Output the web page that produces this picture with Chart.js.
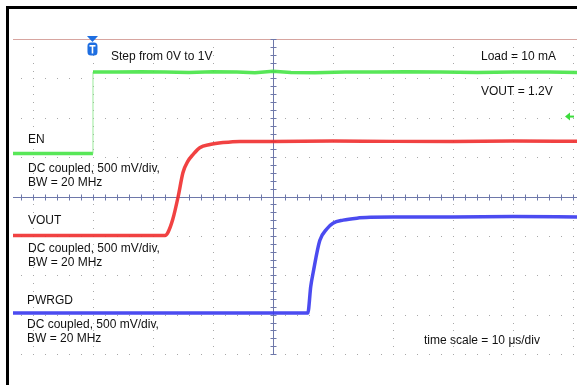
<!DOCTYPE html>
<html>
<head>
<meta charset="utf-8">
<script src="https://cdn.jsdelivr.net/npm/chart.js@4"></script>
<style>
  body { margin: 0; background: #fff; }
  canvas { display: block; }
</style>
</head>
<body>
<canvas id="scope" width="577" height="385"></canvas>
<script>
const ctx = document.getElementById("scope");

// time in us (trigger = 0), level in divisions (screen centre = 0)
const enTime = [-13.4, 0, 0, 4, 8, 12, 16, 20, 24, 27, 30, 33, 37, 42, 47, 52, 58, 64, 70, 76, 81];
const enLevel = [1.09, 1.09, 3.16, 3.16, 3.17, 3.16, 3.15, 3.17, 3.16, 3.14, 3.18, 3.15, 3.14, 3.16, 3.16, 3.17, 3.16, 3.15, 3.16, 3.16, 3.15];

const voutTime = [-13.4, 5, 12.0, 12.5, 13.3, 14.2, 15.0, 15.8, 16.7, 17.8, 19.5, 21.7, 24.5, 30, 40, 50, 60, 70, 81];
const voutLevel = [-0.99, -0.99, -0.99, -0.91, -0.58, 0.0, 0.61, 0.89, 1.07, 1.24, 1.32, 1.37, 1.40, 1.40, 1.41, 1.40, 1.40, 1.41, 1.40];

const pgTime = [-13.4, 10, 30, 35.8, 36.3, 36.7, 37.8, 39.0, 40.0, 41.7, 44.0, 46.2, 50, 60, 70, 81];
const pgLevel = [-2.96, -2.96, -2.96, -2.96, -2.28, -1.93, -1.12, -0.82, -0.68, -0.60, -0.55, -0.53, -0.52, -0.52, -0.51, -0.52];

const pts = (xs, ys) => xs.map((t, i) => ({ x: t, y: ys[i] }));

const scopeGrid = {
  id: "scopeGrid",
  beforeDatasetsDraw(chart) {
    const { ctx, chartArea: a, scales: { x, y } } = chart;
    ctx.save();
    // dotted graticule
    ctx.fillStyle = "#a8a8a8";
    for (let t = -10; t <= 80; t += 10) {
      const px = Math.round(x.getPixelForValue(t));
      for (let k = -20; k <= 20; k++) {
        ctx.fillRect(px, Math.round(y.getPixelForValue(k / 5)), 1, 1);
      }
    }
    for (let v = -4; v <= 4; v++) {
      const py = Math.round(y.getPixelForValue(v));
      for (let t = -12; t <= 80; t += 2) {
        ctx.fillRect(Math.round(x.getPixelForValue(t)), py, 1, 1);
      }
    }
    // top line
    ctx.strokeStyle = "rgb(215,165,160)";
    ctx.lineWidth = 1;
    const top = Math.round(y.getPixelForValue(4)) + 0.5;
    ctx.beginPath(); ctx.moveTo(a.left, top); ctx.lineTo(a.right, top); ctx.stroke();
    // centre axes with ticks
    ctx.strokeStyle = "rgb(110,120,170)";
    const cx = Math.round(x.getPixelForValue(30)) + 0.5;
    const cy = Math.round(y.getPixelForValue(0)) + 0.5;
    ctx.beginPath();
    ctx.moveTo(cx, a.top); ctx.lineTo(cx, a.bottom);
    ctx.moveTo(a.left, cy); ctx.lineTo(a.right, cy);
    for (let t = -12; t <= 80; t += 2) {
      const px = Math.round(x.getPixelForValue(t)) + 0.5;
      ctx.moveTo(px, cy - 3); ctx.lineTo(px, cy + 3);
    }
    for (let k = -20; k <= 20; k++) {
      const py = Math.round(y.getPixelForValue(k / 5)) + 0.5;
      ctx.moveTo(cx - 3, py); ctx.lineTo(cx + 3, py);
    }
    ctx.stroke();
    ctx.restore();
  },
  afterDraw(chart) {
    const { ctx, scales: { x, y } } = chart;
    ctx.save();
    // frame
    ctx.fillStyle = "#000";
    ctx.fillRect(6, 6, 3, 379);
    ctx.fillRect(6, 6, 571, 3);
    // trigger marker
    const tx = x.getPixelForValue(0) - 0.5;
    ctx.fillStyle = "rgb(30,110,225)";
    ctx.beginPath();
    ctx.moveTo(tx - 5.5, 36); ctx.lineTo(tx + 5.5, 36); ctx.lineTo(tx, 42); ctx.closePath();
    ctx.fill();
    ctx.beginPath();
    ctx.roundRect(tx - 5, 42.5, 10, 13, 3.5);
    ctx.fill();
    ctx.fillStyle = "#fff";
    ctx.fillRect(tx - 3, 45, 6, 1.6);
    ctx.fillRect(tx - 0.8, 45, 1.6, 8.5);
    // channel 1 level marker
    const gy = y.getPixelForValue(2.03);
    ctx.strokeStyle = "rgb(60,220,60)";
    ctx.fillStyle = "rgb(60,220,60)";
    ctx.lineWidth = 2;
    ctx.beginPath(); ctx.moveTo(567, gy); ctx.lineTo(574, gy); ctx.stroke();
    ctx.beginPath(); ctx.moveTo(565, gy); ctx.lineTo(570, gy - 4); ctx.lineTo(570, gy + 4); ctx.closePath(); ctx.fill();
    // labels
    ctx.fillStyle = "#111";
    ctx.font = "12px 'Liberation Sans', Arial, sans-serif";
    ctx.textBaseline = "middle";
    ctx.fillText("Step from 0V to 1V", 111, 57);
    ctx.fillText("Load = 10 mA", 481, 57);
    ctx.fillText("VOUT = 1.2V", 481, 92);
    ctx.fillText("EN", 28, 140);
    ctx.fillText("DC coupled, 500 mV/div,", 28, 169);
    ctx.fillText("BW = 20 MHz", 28, 183);
    ctx.fillText("VOUT", 28, 221);
    ctx.fillText("DC coupled, 500 mV/div,", 28, 249);
    ctx.fillText("BW = 20 MHz", 28, 263);
    ctx.fillText("PWRGD", 27, 301);
    ctx.fillText("DC coupled, 500 mV/div,", 27, 325);
    ctx.fillText("BW = 20 MHz", 27, 339);
    ctx.fillText("time scale = 10 \u03bcs/div", 424, 341);
    ctx.restore();
  }
};

new Chart(ctx, {
  type: "line",
  data: {
    datasets: [
      {
        label: "EN",
        data: pts(enTime, enLevel),
        borderColor: "rgba(70,228,70,0.9)",
        borderWidth: 3.5,
        tension: 0,
        segment: {
          borderWidth: (c) => (c.p0.parsed.x === c.p1.parsed.x ? 1 : 3.5),
          borderColor: (c) => (c.p0.parsed.x === c.p1.parsed.x ? "rgba(130,230,130,0.8)" : undefined)
        }
      },
      {
        label: "VOUT",
        data: pts(voutTime, voutLevel),
        borderColor: "rgba(240,45,45,0.9)",
        borderWidth: 3.5,
        cubicInterpolationMode: "monotone"
      },
      {
        label: "PWRGD",
        data: pts(pgTime, pgLevel),
        borderColor: "rgba(55,55,238,0.9)",
        borderWidth: 3.5,
        cubicInterpolationMode: "monotone"
      }
    ]
  },
  options: {
    responsive: false,
    animation: false,
    layout: { padding: { left: 13, top: 39, right: 0, bottom: 31 } },
    elements: { point: { radius: 0 } },
    plugins: { legend: { display: false }, tooltip: { enabled: false } },
    scales: {
      x: { type: "linear", min: -13.33, max: 80.67, display: false },
      y: { min: -4, max: 4, display: false }
    }
  },
  plugins: [scopeGrid]
});
</script>
</body>
</html>
